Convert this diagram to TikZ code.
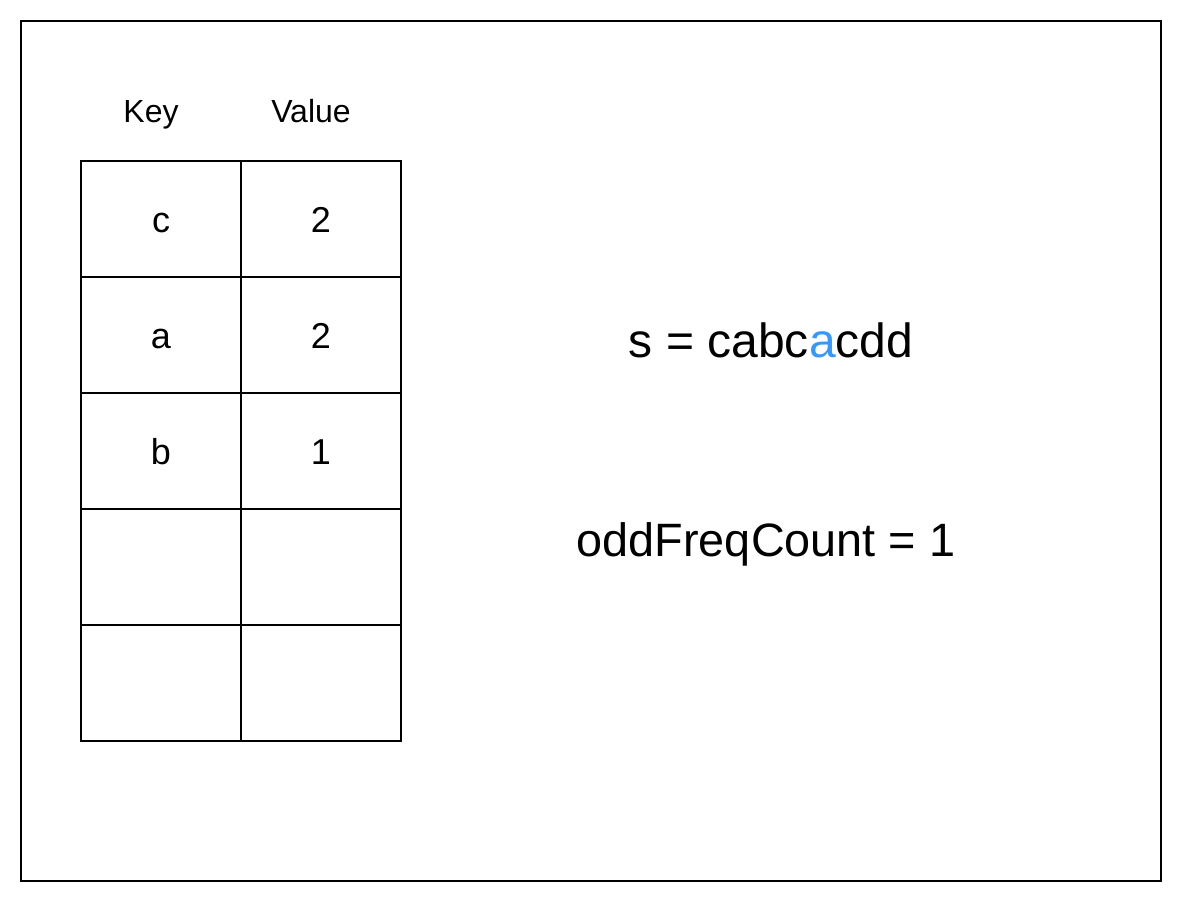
\documentclass[tikz,border=0pt]{standalone}
\usepackage{fontspec}
\setmainfont{Liberation Sans}
\usetikzlibrary{positioning}
\definecolor{hlblue}{HTML}{3399FF}
\tikzset{
  cell/.style={draw, line width=1pt, outer sep=0pt, minimum width=80pt, minimum height=58pt, inner sep=0pt,
    text height=13pt, text depth=0pt, font=\fontsize{18}{20}\selectfont},
  head/.style={anchor=base, font=\fontsize{16}{18}\selectfont},
  big/.style={anchor=base, font=\fontsize{24}{28}\selectfont}
}
\begin{document}
\begin{tikzpicture}[x=0.5pt, y=-0.5pt]

    \useasboundingbox (0,0) rectangle (1182,902);
    \draw[line width=1pt] (21,21) rectangle (1161,881);

    \node[cell] (k1) at (161,219) {c};
    \node[cell, right=0pt of k1] (v1) {2};
    \node[cell, below=0pt of k1] (k2) {a};
    \node[cell, right=0pt of k2] (v2) {2};
    \node[cell, below=0pt of k2] (k3) {b};
    \node[cell, right=0pt of k3] (v3) {1};
    \node[cell, below=0pt of k3] (k4) {};
    \node[cell, right=0pt of k4] (v4) {};
    \node[cell, below=0pt of k4] (k5) {};
    \node[cell, right=0pt of k5] (v5) {};

    \node[head] (key) at (151,122) {Key};
    \node[head] (value) at (311,122) {Value};

    \node[big] (str) at (771,357) {s = cabc\textcolor{hlblue}{a}cdd};
    \node[big, font=\fontsize{23.4}{28}\selectfont] (odd) at (766,556) {oddFreqCount = 1};

  \end{tikzpicture}
\end{document}
